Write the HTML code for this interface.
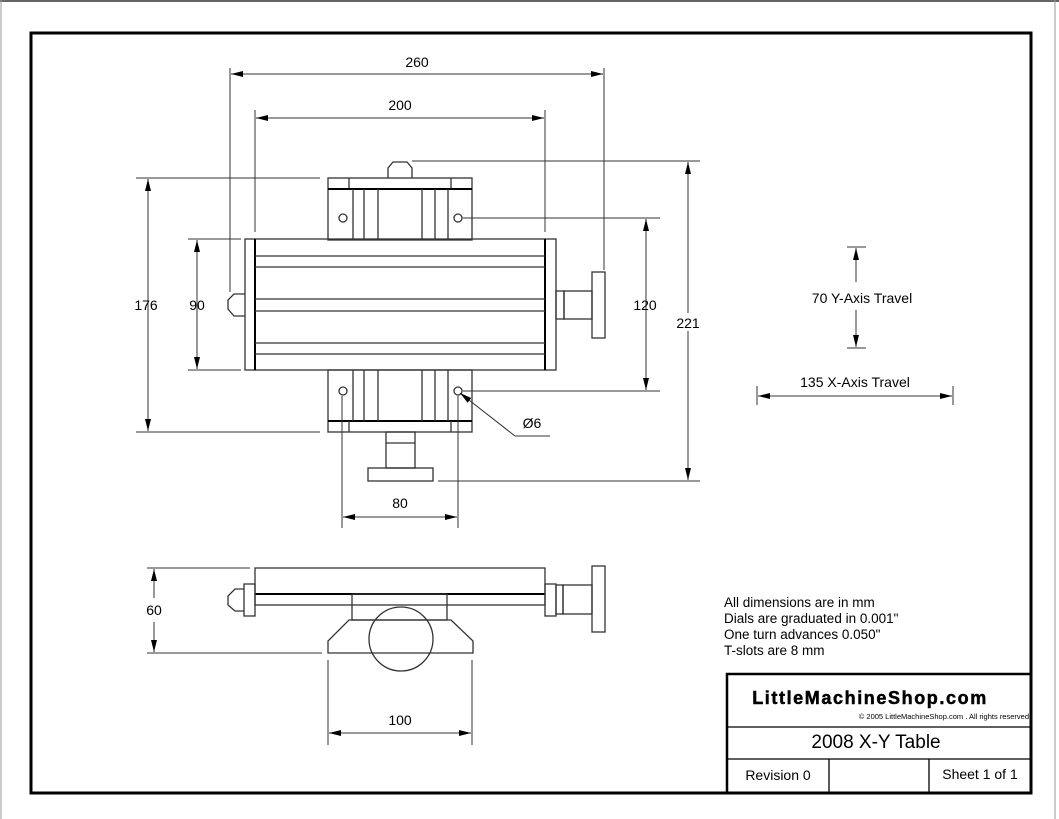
<!DOCTYPE html>
<html><head><meta charset="utf-8"><style>
html,body{margin:0;padding:0;background:#fff}
svg{display:block}
text{font-family:"Liberation Sans",sans-serif;fill:#000}
</style></head><body>
<svg width="1059" height="819" viewBox="0 0 1059 819" xmlns="http://www.w3.org/2000/svg">
<defs>
<marker id="a" viewBox="0 0 12 6" refX="12" refY="3" markerWidth="12" markerHeight="6" markerUnits="userSpaceOnUse" orient="auto-start-reverse"><path d="M0,0 L12,3 L0,6 z" fill="#000"/></marker>
</defs>
<rect x="0" y="0" width="1059" height="819" fill="#fff"/>
<line x1="0" y1="1" x2="1059" y2="1" stroke="#666" stroke-width="2"/>
<line x1="1" y1="0" x2="1" y2="819" stroke="#999"/>
<line x1="1055" y1="0" x2="1055" y2="819" stroke="#999"/>
<rect x="31" y="33" width="1000" height="760" fill="none" stroke="#000" stroke-width="3"/>

<g fill="none" stroke="#333" stroke-width="1.3">
<rect x="328" y="178" width="144" height="62"/>
<line x1="349" y1="178" x2="349" y2="189"/><line x1="451" y1="178" x2="451" y2="189"/>
<line x1="328" y1="189" x2="472" y2="189" stroke="#000" stroke-width="2"/>
<line x1="353" y1="189" x2="353" y2="240"/><line x1="364" y1="189" x2="364" y2="240"/><line x1="378" y1="189" x2="378" y2="240"/>
<line x1="422" y1="189" x2="422" y2="240"/><line x1="435" y1="189" x2="435" y2="240"/><line x1="448" y1="189" x2="448" y2="240"/>
<circle cx="343" cy="218" r="4"/><circle cx="458" cy="218" r="4"/>
<path d="M388,178 L388,168 L393,162 L407,162 L412,168 L412,178"/>
<rect x="245" y="239" width="311" height="131"/>
<line x1="255" y1="239" x2="255" y2="370" stroke="#000" stroke-width="2"/>
<line x1="545" y1="239" x2="545" y2="370" stroke="#000" stroke-width="2"/>
<line x1="255" y1="256" x2="545" y2="256"/><line x1="255" y1="267" x2="545" y2="267"/>
<line x1="255" y1="299" x2="545" y2="299"/><line x1="255" y1="311" x2="545" y2="311"/>
<line x1="255" y1="343" x2="545" y2="343"/><line x1="255" y1="354" x2="545" y2="354"/>
<path d="M245,294 L234,294 L228,300 L228,309 L234,316 L245,316"/>
<rect x="556" y="291" width="8" height="28"/><rect x="564" y="291" width="28" height="28"/>
<rect x="592" y="272" width="13" height="66"/>
<rect x="328" y="370" width="144" height="62"/>
<line x1="328" y1="421" x2="472" y2="421" stroke="#000" stroke-width="2"/>
<line x1="349" y1="421" x2="349" y2="432"/><line x1="451" y1="421" x2="451" y2="432"/>
<line x1="353" y1="370" x2="353" y2="421"/><line x1="364" y1="370" x2="364" y2="421"/><line x1="378" y1="370" x2="378" y2="421"/>
<line x1="422" y1="370" x2="422" y2="421"/><line x1="435" y1="370" x2="435" y2="421"/><line x1="448" y1="370" x2="448" y2="421"/>
<circle cx="343" cy="391" r="4"/><circle cx="458" cy="391" r="4"/>
<rect x="386" y="432" width="29" height="36"/><line x1="386" y1="443" x2="415" y2="443"/>
<rect x="368" y="468" width="65" height="13"/>

<rect x="255" y="568" width="290" height="37"/>
<line x1="255" y1="594" x2="545" y2="594" stroke="#000" stroke-width="2"/>
<rect x="244" y="584" width="11" height="32"/>
<path d="M244,589 L235,589 L228,596 L228,605 L235,611 L244,611"/>
<rect x="545" y="584" width="11" height="32"/>
<rect x="556" y="585" width="7" height="29"/><rect x="563" y="585" width="29" height="29"/>
<rect x="592" y="566" width="13" height="66"/>
<rect x="352" y="594" width="95" height="26"/>
<path d="M349,620 L451,620 L473,641 L473,653 L328,653 L328,641 Z"/>
<circle cx="401" cy="639" r="32"/>
</g>

<g stroke="#333" stroke-width="1" fill="none">
<line x1="230" y1="68" x2="230" y2="292"/><line x1="604" y1="68" x2="604" y2="270"/>
<line x1="231" y1="74" x2="603" y2="74" marker-start="url(#a)" marker-end="url(#a)"/>
<line x1="255" y1="110" x2="255" y2="232"/><line x1="545" y1="110" x2="545" y2="232"/>
<line x1="256" y1="118" x2="544" y2="118" marker-start="url(#a)" marker-end="url(#a)"/>
<line x1="136" y1="178" x2="320" y2="178"/><line x1="136" y1="432" x2="320" y2="432"/>
<line x1="148" y1="179" x2="148" y2="431" marker-start="url(#a)" marker-end="url(#a)"/>
<line x1="188" y1="239" x2="241" y2="239"/><line x1="188" y1="370" x2="241" y2="370"/>
<line x1="197" y1="240" x2="197" y2="369" marker-start="url(#a)" marker-end="url(#a)"/>
<line x1="463" y1="218" x2="660" y2="218"/><line x1="463" y1="391" x2="660" y2="391"/>
<line x1="646" y1="219" x2="646" y2="390" marker-start="url(#a)" marker-end="url(#a)"/>
<line x1="412" y1="161" x2="700" y2="161"/><line x1="438" y1="481" x2="700" y2="481"/>
<line x1="688" y1="162" x2="688" y2="480" marker-start="url(#a)" marker-end="url(#a)"/>
<line x1="342" y1="396" x2="342" y2="528"/><line x1="458" y1="396" x2="458" y2="528"/>
<line x1="343" y1="517" x2="457" y2="517" marker-start="url(#a)" marker-end="url(#a)"/>
<polyline points="550,436 515,436" /><line x1="515" y1="436" x2="460" y2="393" marker-end="url(#a)"/>
<line x1="847" y1="247" x2="866" y2="247"/><line x1="847" y1="348" x2="866" y2="348"/>
<line x1="856" y1="248" x2="856" y2="282" marker-start="url(#a)"/><line x1="856" y1="310" x2="856" y2="347" marker-end="url(#a)"/>
<line x1="757" y1="386" x2="757" y2="405"/><line x1="953" y1="386" x2="953" y2="405"/>
<line x1="758" y1="396" x2="952" y2="396" marker-start="url(#a)" marker-end="url(#a)"/>
<line x1="147" y1="568" x2="250" y2="568"/><line x1="147" y1="653" x2="322" y2="653"/>
<line x1="154" y1="569" x2="154" y2="598" marker-start="url(#a)"/><line x1="154" y1="622" x2="154" y2="652" marker-end="url(#a)"/>
<line x1="328" y1="660" x2="328" y2="745"/><line x1="472" y1="660" x2="472" y2="745"/>
<line x1="329" y1="733" x2="471" y2="733" marker-start="url(#a)" marker-end="url(#a)"/>
</g>
<g font-size="14" text-anchor="middle">
<rect x="400" y="54" width="34" height="16" fill="#fff"/>
<text x="417" y="67">260</text>
<text x="400" y="110">200</text>
<text x="146" y="310">176</text>
<text x="197" y="310">90</text>
<text x="645" y="310">120</text>
<rect x="676" y="313" width="24" height="18" fill="#fff"/>
<text x="688" y="328">221</text>
<text x="400" y="508">80</text>
<text x="532" y="428">Ø6</text>
<text x="154" y="615">60</text>
<text x="400" y="725">100</text>
<text x="862" y="303">70 Y-Axis Travel</text>
<text x="855" y="387">135 X-Axis Travel</text>
</g>
<g font-size="13.5">
<text x="724" y="607">All dimensions are in mm</text>
<text x="724" y="623">Dials are graduated in 0.001"</text>
<text x="724" y="639">One turn advances 0.050"</text>
<text x="724" y="655">T-slots are 8 mm</text>
</g>
<g fill="none" stroke="#000" stroke-width="2">
<rect x="727" y="674" width="304" height="119" stroke-width="2.5"/>
<line x1="727" y1="727" x2="1031" y2="727" stroke-width="1.3"/>
<line x1="727" y1="759" x2="1031" y2="759" stroke-width="1.3"/>
<line x1="829" y1="759" x2="829" y2="793" stroke-width="1.3"/>
<line x1="929" y1="759" x2="929" y2="793" stroke-width="1.3"/>
</g>
<text x="870" y="704" font-size="18" font-weight="bold" text-anchor="middle" letter-spacing="1.6" stroke="#000" stroke-width="0.5">LittleMachineShop.com</text>
<text x="1029" y="719" font-size="7.5" text-anchor="end" fill="#333">© 2005 LittleMachineShop.com . All rights reserved</text>
<text x="876" y="748" font-size="19" text-anchor="middle">2008 X-Y Table</text>
<text x="778" y="780" font-size="14" text-anchor="middle">Revision 0</text>
<text x="980" y="779" font-size="14" text-anchor="middle">Sheet 1 of 1</text>
</svg>
</body></html>
